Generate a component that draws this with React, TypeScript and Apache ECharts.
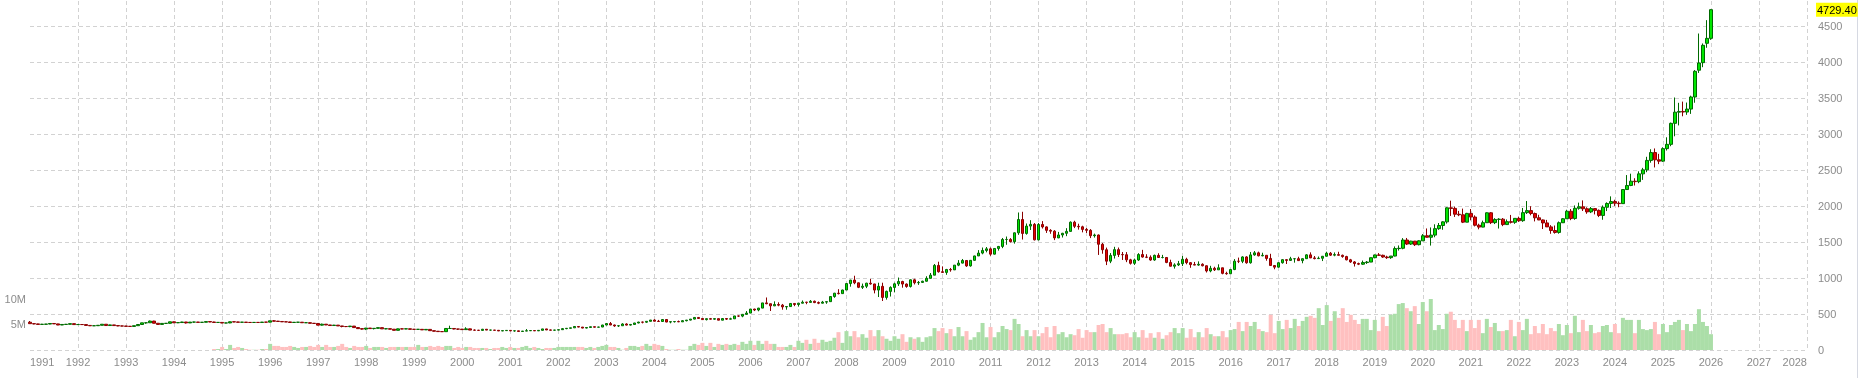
import React, { useEffect, useRef } from 'react';
import * as echarts from 'echarts';

// Monthly categories run from Jan 1991 to Jan 2028
const START_YEAR = 1991;
const END_YEAR = 2028;

// Monthly candles [open, close, low, high], Jan 1991 .. Jan 2026
const ohlc: number[][] = [
  // 1991
  [386.2,366.0,366.0,403.0],[366.0,362.7,357.0,371.0],[362.7,355.7,350.0,365.0],[355.7,357.8,353.5,363.0],
  [357.8,360.4,354.0,362.0],[360.4,368.4,358.0,371.0],[368.4,362.9,361.0,372.0],[362.9,347.4,346.0,364.0],
  [347.4,354.9,346.0,357.0],[354.9,357.5,354.0,362.0],[357.5,366.3,357.0,368.0],[366.3,353.2,353.0,367.0],
  // 1992
  [353.2,354.1,350.0,361.0],[354.1,353.1,349.0,356.0],[353.1,341.7,340.0,354.0],[341.7,336.4,333.0,342.0],
  [336.4,337.5,333.0,340.0],[337.5,343.4,336.0,345.0],[343.4,357.9,343.0,360.0],[357.9,340.0,335.0,358.0],
  [340.0,349.0,339.0,352.0],[349.0,339.3,337.0,350.0],[339.3,334.2,330.0,340.0],[334.2,332.9,330.0,338.0],
  // 1993
  [332.9,329.5,326.0,334.0],[329.5,327.6,326.0,333.0],[327.6,337.8,326.0,338.0],[337.8,354.3,336.0,356.0],
  [354.3,377.5,353.0,378.0],[377.5,378.5,366.0,381.0],[378.5,401.8,377.0,409.0],[401.8,371.6,371.0,406.0],
  [371.6,355.5,350.0,372.0],[355.5,369.6,355.0,372.0],[369.6,370.9,366.0,374.0],[370.9,391.8,369.0,392.0],
  // 1994
  [391.8,378.0,377.0,395.0],[378.0,381.6,374.0,386.0],[381.6,389.2,378.0,392.0],[389.2,376.5,368.0,390.0],
  [376.5,387.6,375.0,389.0],[387.6,388.3,380.0,393.0],[388.3,384.0,381.0,390.0],[384.0,385.8,375.0,387.0],
  [385.8,394.9,385.0,398.0],[394.9,389.1,387.0,396.0],[389.1,383.1,382.0,393.0],[383.1,383.3,375.0,385.0],
  // 1995
  [383.3,374.9,373.0,384.0],[374.9,376.4,372.0,379.0],[376.4,392.0,373.0,396.0],[392.0,389.8,387.0,396.0],
  [389.8,385.3,382.0,392.0],[385.3,387.1,383.0,390.0],[387.1,383.4,382.0,389.0],[383.4,382.4,380.0,388.0],
  [382.4,383.6,381.0,386.0],[383.6,382.7,381.0,387.0],[382.7,387.7,382.0,390.0],[387.7,387.0,383.0,389.0],
  // 1996
  [387.0,405.6,386.0,406.0],[405.6,400.7,398.0,416.0],[400.7,396.4,394.0,404.0],[396.4,391.3,389.0,397.0],
  [391.3,390.6,389.0,395.0],[390.6,382.0,381.0,393.0],[382.0,385.3,380.0,389.0],[385.3,386.5,384.0,390.0],
  [386.5,379.0,378.0,387.0],[379.0,379.5,377.0,385.0],[379.5,371.3,370.0,384.0],[371.3,369.0,366.0,372.0],
  // 1997
  [369.0,345.5,344.0,370.0],[345.5,358.6,339.0,366.0],[358.6,348.2,346.0,359.0],[348.2,340.2,337.0,349.0],
  [340.2,345.6,339.0,349.0],[345.6,334.6,334.0,346.0],[334.6,326.4,315.0,335.0],[326.4,325.4,318.0,332.0],
  [325.4,332.1,317.0,334.0],[332.1,311.4,308.0,334.0],[311.4,296.8,294.0,314.0],[296.8,290.2,283.0,299.0],
  // 1998
  [290.2,304.9,277.0,306.0],[304.9,297.4,292.0,305.0],[297.4,301.0,286.0,302.0],[301.0,310.7,300.0,314.0],
  [310.7,293.6,292.0,311.0],[293.6,296.3,288.0,298.0],[296.3,288.9,287.0,297.0],[288.9,273.4,272.0,289.0],
  [273.4,293.9,273.0,298.0],[293.9,292.3,289.0,301.0],[292.3,294.7,290.0,300.0],[294.7,287.8,285.0,296.0],
  // 1999
  [287.8,287.1,284.0,292.0],[287.1,287.3,282.0,291.0],[287.3,279.5,278.0,290.0],[279.5,286.6,278.0,291.0],
  [286.6,268.6,267.0,290.0],[268.6,261.0,257.0,270.0],[261.0,255.6,253.0,263.0],[255.6,254.8,252.0,259.0],
  [254.8,299.0,254.0,302.0],[299.0,299.1,295.0,338.0],[299.1,291.4,287.0,304.0],[291.4,290.3,278.0,293.0],
  // 2000
  [290.3,283.3,281.0,292.0],[283.3,293.7,283.0,316.0],[293.7,276.8,276.0,297.0],[276.8,275.1,272.0,285.0],
  [275.1,272.3,270.0,279.0],[272.3,288.2,271.0,293.0],[288.2,276.8,276.0,290.0],[276.8,277.0,270.0,280.0],
  [277.0,273.7,270.0,278.0],[273.7,264.5,264.0,274.0],[264.5,269.1,263.0,270.0],[269.1,272.7,268.0,275.0],
  // 2001
  [272.7,265.6,262.0,273.0],[265.6,266.7,255.0,268.0],[266.7,257.7,256.0,268.0],[257.7,263.2,255.0,264.0],
  [263.2,267.5,263.0,291.0],[267.5,270.6,266.0,276.0],[270.6,265.9,264.0,271.0],[265.9,273.0,265.0,275.0],
  [273.0,293.1,271.0,294.0],[293.1,278.8,277.0,294.0],[278.8,275.5,272.0,284.0],[275.5,276.5,271.0,280.0],
  // 2002
  [276.5,282.3,276.0,283.0],[282.3,296.9,281.0,305.0],[296.9,301.4,289.0,304.0],[301.4,308.2,298.0,309.0],
  [308.2,326.6,307.0,328.0],[326.6,318.5,315.0,330.0],[318.5,304.7,302.0,319.0],[304.7,312.8,300.0,315.0],
  [312.8,323.7,310.0,325.0],[323.7,316.9,312.0,324.0],[316.9,319.1,315.0,322.0],[319.1,347.2,318.0,350.0],
  // 2003
  [347.2,367.5,344.0,370.0],[367.5,347.5,345.0,389.0],[347.5,334.9,322.0,353.0],[334.9,336.8,320.0,341.0],
  [336.8,361.4,336.0,372.0],[361.4,346.0,341.0,371.0],[346.0,354.8,340.0,362.0],[354.8,375.6,352.0,377.0],
  [375.6,388.0,371.0,392.0],[388.0,386.3,370.0,394.0],[386.3,398.4,377.0,400.0],[398.4,416.3,398.0,417.0],
  // 2004
  [416.3,399.8,399.0,427.0],[399.8,395.9,393.0,418.0],[395.9,423.7,390.0,427.0],[423.7,388.5,386.0,428.0],
  [388.5,393.3,371.0,395.0],[393.3,395.8,382.0,398.0],[395.8,391.4,387.0,409.0],[391.4,407.3,390.0,416.0],
  [407.3,415.7,398.0,417.0],[415.7,429.4,411.0,430.0],[429.4,452.4,426.0,456.0],[452.4,438.0,432.0,456.0],
  // 2005
  [438.0,422.2,418.0,438.0],[422.2,435.5,411.0,437.0],[435.5,428.4,424.0,445.0],[428.4,436.0,420.0,438.0],
  [436.0,414.5,414.0,437.0],[414.5,437.1,414.0,443.0],[437.1,429.0,418.0,438.0],[429.0,433.3,427.0,448.0],
  [433.3,473.3,432.0,474.0],[473.3,470.8,459.0,479.0],[470.8,495.7,455.0,497.0],[495.7,513.0,490.0,541.0],
  // 2006
  [513.0,568.8,512.0,572.0],[568.8,556.0,541.0,573.0],[556.0,582.0,538.0,586.0],[582.0,654.5,581.0,655.0],
  [654.5,643.0,636.0,730.0],[643.0,613.5,542.0,644.0],[613.5,632.5,610.0,676.0],[632.5,623.5,608.0,663.0],
  [623.5,599.3,560.0,640.0],[599.3,603.8,560.0,608.0],[603.8,646.7,603.0,650.0],[646.7,632.0,609.0,650.0],
  // 2007
  [632.0,650.5,603.0,653.0],[650.5,664.2,648.0,688.0],[664.2,661.8,636.0,670.0],[661.8,677.0,660.0,694.0],
  [677.0,659.1,651.0,687.0],[659.1,650.5,637.0,674.0],[650.5,665.5,647.0,682.0],[665.5,672.0,642.0,676.0],
  [672.0,743.0,670.0,745.0],[743.0,789.5,726.0,794.0],[789.5,783.5,772.0,845.0],[783.5,833.8,780.0,838.0],
  // 2008
  [833.8,923.3,833.0,930.0],[923.3,971.5,880.0,975.0],[971.5,933.5,914.0,1032.0],[933.5,871.0,860.0,937.0],
  [871.0,885.8,848.0,923.0],[885.8,928.3,860.0,934.0],[928.3,918.0,908.0,988.0],[918.0,833.0,787.0,920.0],
  [833.0,884.5,736.0,935.0],[884.5,730.8,681.0,935.0],[730.8,814.5,700.0,825.0],[814.5,869.8,743.0,885.0],
  // 2009
  [869.8,919.5,801.0,935.0],[919.5,952.0,890.0,1007.0],[952.0,916.5,866.0,962.0],[916.5,883.3,865.0,925.0],
  [883.3,975.5,868.0,981.0],[975.5,934.5,911.0,990.0],[934.5,939.0,905.0,959.0],[939.0,955.5,931.0,963.0],
  [955.5,995.8,950.0,1025.0],[995.8,1040.0,995.0,1070.0],[1040.0,1175.8,1040.0,1195.0],[1175.8,1087.5,1075.0,1227.0],
  // 2010
  [1087.5,1078.5,1075.0,1162.0],[1078.5,1118.9,1045.0,1127.0],[1118.9,1113.3,1088.0,1140.0],[1113.3,1179.3,1113.0,1181.0],
  [1179.3,1207.5,1165.0,1249.0],[1207.5,1244.0,1203.0,1265.0],[1244.0,1169.0,1155.0,1246.0],[1169.0,1246.0,1158.0,1250.0],
  [1246.0,1307.0,1242.0,1310.0],[1307.0,1346.8,1307.0,1388.0],[1346.8,1383.5,1330.0,1424.0],[1383.5,1405.5,1357.0,1431.0],
  // 2011
  [1405.5,1332.0,1309.0,1424.0],[1332.0,1411.0,1328.0,1411.5],[1411.0,1439.0,1381.0,1446.0],[1439.0,1535.5,1415.0,1557.0],
  [1535.5,1536.5,1462.0,1577.0],[1536.5,1505.5,1495.0,1555.0],[1505.5,1628.5,1478.0,1632.0],[1628.5,1813.5,1600.0,1911.0],
  [1813.5,1620.0,1535.0,1921.0],[1620.0,1722.0,1603.0,1758.0],[1722.0,1746.0,1668.0,1804.0],[1746.0,1531.0,1523.0,1764.0],
  // 2012
  [1531.0,1744.0,1523.0,1764.0],[1744.0,1711.0,1688.0,1791.0],[1711.0,1662.5,1627.0,1718.0],[1662.5,1651.3,1615.0,1679.0],
  [1651.3,1558.0,1527.0,1666.0],[1558.0,1598.5,1554.0,1641.0],[1598.5,1622.0,1563.0,1628.0],[1622.0,1648.5,1582.0,1693.0],
  [1648.5,1776.0,1647.0,1787.0],[1776.0,1719.0,1694.0,1796.0],[1719.0,1712.0,1673.0,1755.0],[1712.0,1675.8,1635.0,1727.0],
  // 2013
  [1675.8,1663.0,1626.0,1695.0],[1663.0,1588.5,1555.0,1680.0],[1588.5,1598.3,1562.0,1617.0],[1598.3,1469.0,1321.0,1605.0],
  [1469.0,1393.0,1338.0,1488.0],[1393.0,1234.5,1180.0,1423.0],[1234.5,1314.5,1207.0,1347.0],[1314.5,1394.8,1271.0,1434.0],
  [1394.8,1326.5,1292.0,1424.0],[1326.5,1324.0,1251.0,1362.0],[1324.0,1253.0,1221.0,1361.0],[1253.0,1204.5,1187.0,1267.0],
  // 2014
  [1204.5,1251.0,1182.0,1270.0],[1251.0,1326.5,1238.0,1346.0],[1326.5,1291.8,1284.0,1392.0],[1291.8,1288.5,1277.0,1331.0],
  [1288.5,1250.5,1240.0,1315.0],[1250.5,1315.0,1240.0,1326.0],[1315.0,1285.3,1281.0,1345.0],[1285.3,1285.8,1273.0,1322.0],
  [1285.8,1216.5,1206.0,1287.0],[1216.5,1164.3,1161.0,1255.0],[1164.3,1182.8,1131.0,1205.0],[1182.8,1199.3,1167.0,1238.0],
  // 2015
  [1199.3,1260.3,1167.0,1307.0],[1260.3,1214.0,1191.0,1282.0],[1214.0,1187.0,1142.0,1223.0],[1187.0,1180.3,1178.0,1224.0],
  [1180.3,1191.4,1170.0,1232.0],[1191.4,1171.0,1162.0,1205.0],[1171.0,1098.4,1077.0,1175.0],[1098.4,1135.0,1080.0,1170.0],
  [1135.0,1114.0,1098.0,1157.0],[1114.0,1142.4,1113.0,1191.0],[1142.4,1065.0,1052.0,1143.0],[1065.0,1060.0,1046.0,1088.0],
  // 2016
  [1060.0,1118.0,1058.0,1127.0],[1118.0,1234.0,1110.0,1263.0],[1234.0,1232.7,1208.0,1284.0],[1232.7,1293.3,1207.0,1303.0],
  [1293.3,1212.3,1199.0,1304.0],[1212.3,1321.9,1200.0,1362.0],[1321.9,1350.0,1310.0,1375.0],[1350.0,1309.0,1301.0,1367.0],
  [1309.0,1316.0,1302.0,1352.0],[1316.0,1272.4,1241.0,1318.0],[1272.4,1173.9,1171.0,1337.0],[1173.9,1151.7,1122.0,1179.0],
  // 2017
  [1151.7,1212.8,1146.0,1220.0],[1212.8,1255.6,1200.0,1264.0],[1255.6,1245.2,1195.0,1262.0],[1245.2,1268.3,1240.0,1295.0],
  [1268.3,1268.9,1214.0,1270.0],[1268.9,1242.3,1237.0,1296.0],[1242.3,1269.1,1205.0,1274.0],[1269.1,1322.1,1267.0,1331.0],
  [1322.1,1280.0,1277.0,1357.0],[1280.0,1270.2,1260.0,1306.0],[1270.2,1275.0,1264.0,1299.0],[1275.0,1303.0,1236.0,1306.0],
  // 2018
  [1303.0,1345.0,1302.0,1366.0],[1345.0,1318.4,1307.0,1362.0],[1318.4,1325.5,1303.0,1356.0],[1325.5,1315.9,1313.0,1365.0],
  [1315.9,1298.6,1282.0,1326.0],[1298.6,1253.2,1246.0,1309.0],[1253.2,1224.2,1211.0,1266.0],[1224.2,1201.0,1160.0,1236.0],
  [1201.0,1192.5,1180.0,1214.0],[1192.5,1214.9,1183.0,1243.0],[1214.9,1222.0,1196.0,1237.0],[1222.0,1282.5,1221.0,1284.0],
  // 2019
  [1282.5,1321.2,1275.0,1326.0],[1321.2,1316.0,1308.0,1347.0],[1316.0,1292.3,1281.0,1325.0],[1292.3,1283.5,1266.0,1310.0],
  [1283.5,1305.6,1267.0,1306.0],[1305.6,1409.6,1301.0,1439.0],[1409.6,1413.7,1382.0,1453.0],[1413.7,1528.4,1400.0,1555.0],
  [1528.4,1472.0,1459.0,1557.0],[1472.0,1512.7,1459.0,1518.0],[1512.7,1463.6,1445.0,1516.0],[1463.6,1517.3,1454.0,1525.0],
  // 2020
  [1517.3,1587.9,1517.0,1611.0],[1587.9,1566.7,1563.0,1689.0],[1566.7,1596.6,1451.0,1703.0],[1596.6,1686.2,1567.0,1747.0],
  [1686.2,1730.3,1670.0,1765.0],[1730.3,1780.6,1671.0,1789.0],[1780.6,1975.9,1757.0,1984.0],[1975.9,1967.9,1863.0,2075.0],
  [1967.9,1886.9,1849.0,1992.0],[1886.9,1879.0,1860.0,1933.0],[1879.0,1776.5,1764.0,1965.0],[1776.5,1898.4,1775.0,1906.0],
  // 2021
  [1898.4,1847.6,1802.0,1959.0],[1847.6,1734.0,1717.0,1871.0],[1734.0,1707.7,1677.0,1755.0],[1707.7,1769.1,1705.0,1798.0],
  [1769.1,1906.9,1765.0,1913.0],[1906.9,1770.1,1750.0,1917.0],[1770.1,1814.2,1750.0,1832.0],[1814.2,1818.1,1688.0,1832.0],
  [1818.1,1742.8,1721.0,1834.0],[1742.8,1783.4,1740.0,1814.0],[1783.4,1774.6,1758.0,1877.0],[1774.6,1829.2,1753.0,1831.0],
  // 2022
  [1829.2,1797.2,1780.0,1853.0],[1797.2,1909.0,1781.0,1974.0],[1909.0,1937.4,1890.0,2070.0],[1937.4,1896.4,1872.0,1998.0],
  [1896.4,1837.4,1787.0,1910.0],[1837.4,1807.3,1805.0,1879.0],[1807.3,1766.0,1681.0,1814.0],[1766.0,1711.0,1709.0,1808.0],
  [1711.0,1660.6,1615.0,1735.0],[1660.6,1633.6,1617.0,1730.0],[1633.6,1768.5,1616.0,1786.0],[1768.5,1824.0,1765.0,1833.0],
  // 2023
  [1824.0,1928.4,1823.0,1949.0],[1928.4,1826.9,1804.0,1959.0],[1826.9,1969.3,1810.0,2009.0],[1969.3,1990.0,1950.0,2048.0],
  [1990.0,1962.7,1932.0,2079.0],[1962.7,1919.4,1893.0,1983.0],[1919.4,1965.1,1903.0,1987.0],[1965.1,1940.2,1884.0,1966.0],
  [1940.2,1870.0,1847.0,1953.0],[1870.0,1983.9,1810.0,2009.0],[1983.9,2036.4,1931.0,2052.0],[2036.4,2062.9,1973.0,2135.0],
  // 2024
  [2062.9,2039.5,2002.0,2088.0],[2039.5,2034.0,1984.0,2065.0],[2034.0,2229.9,2030.0,2236.0],[2229.9,2286.3,2228.0,2431.0],
  [2286.3,2345.8,2277.0,2450.0],[2345.8,2339.6,2286.0,2387.0],[2339.6,2447.6,2318.0,2483.0],[2447.6,2503.4,2364.0,2531.0],
  [2503.4,2634.6,2471.0,2685.0],[2634.6,2744.0,2603.0,2790.0],[2744.0,2643.2,2537.0,2801.0],[2643.2,2624.5,2583.0,2726.0],
  // 2025
  [2624.5,2798.4,2614.0,2817.0],[2798.4,2857.8,2772.0,2956.0],[2857.8,3150.0,2832.0,3160.0],[3150.0,3305.0,2970.0,3509.0],
  [3305.0,3315.0,3121.0,3435.0],[3315.0,3307.0,3248.0,3452.0],[3307.0,3348.0,3268.0,3439.0],[3348.0,3516.0,3281.0,3534.0],
  [3516.0,3873.0,3436.0,3890.0],[3888.0,3989.0,3850.0,4398.0],[3993.0,4234.0,3930.0,4260.0],[4262.0,4331.0,4200.0,4584.0],
  // 2026
  [4331.0,4729.4,4310.0,4735.0],
];

// Monthly volume in millions, Jan 1991 .. Jan 2026 (no data before Nov 1994)
const volumeM: (number | null)[] = [
  // 1991-1993
  null,null,null,null,null,null,null,null,null,null,null,null,
  null,null,null,null,null,null,null,null,null,null,null,null,
  null,null,null,null,null,null,null,null,null,null,null,null,
  // 1994
  null,null,null,null,null,null,null,null,null,null,0.2,0.2,
  // 1995
  0.6,0.2,1.0,0.4,0.6,0.4,0.2,0.05,0.05,0.05,0.2,0.2,
  // 1996
  1.2,0.8,0.8,0.6,0.6,0.8,0.6,0.4,0.6,0.6,0.8,0.6,
  // 1997
  1.0,0.6,1.0,0.6,0.6,0.8,1.2,0.6,0.4,0.8,0.6,0.6,
  // 1998
  0.8,0.4,0.6,0.6,0.6,0.4,0.6,0.6,0.6,0.6,0.6,0.6,
  // 1999
  0.6,1.0,0.6,0.6,0.8,0.6,0.8,0.6,0.8,0.8,0.4,0.6,
  // 2000
  0.4,0.6,0.6,0.4,0.4,0.4,0.4,0.2,0.4,0.4,0.6,0.4,
  // 2001
  0.6,0.4,0.4,0.6,0.8,0.4,0.6,0.4,0.2,0.4,0.4,0.4,
  // 2002
  0.6,0.6,0.6,0.6,0.6,0.6,0.6,0.4,0.6,0.4,0.6,0.8,
  // 2003
  1.0,0.6,0.6,0.4,0.05,0.4,0.8,0.8,0.6,0.8,1.2,0.8,
  // 2004
  1.2,1.0,0.8,0.2,0.05,0.05,0.2,0.05,0.05,0.8,1.2,1.0,
  // 2005
  1.4,0.8,1.4,0.6,1.2,1.0,1.2,1.0,1.2,1.0,1.6,1.2,
  // 2006
  1.8,1.0,1.8,1.2,1.8,1.2,1.2,0.6,0.6,0.6,1.0,0.6,
  // 2007
  1.8,1.4,2.0,1.2,2.2,1.4,2.0,1.6,1.8,2.4,3.5,1.4,
  // 2008
  3.7,2.7,3.7,2.5,3.1,2.4,3.9,2.7,3.9,2.7,2.2,1.8,
  // 2009
  2.7,2.2,3.1,1.6,2.5,2.2,2.5,1.6,2.5,2.7,4.3,3.7,
  // 2010
  4.3,3.3,4.1,2.7,4.5,2.7,3.7,2.0,2.5,3.5,5.3,2.5,
  // 2011
  4.5,2.5,3.5,4.7,4.1,3.9,6.1,5.1,2.7,3.9,2.7,3.9,
  // 2012
  2.7,3.3,4.5,2.5,4.7,3.1,3.5,2.5,3.1,2.9,4.1,2.4,
  // 2013
  3.9,3.5,3.5,4.9,5.1,3.5,4.3,3.1,3.1,3.1,3.3,2.5,
  // 2014
  3.5,2.5,3.9,2.4,3.3,2.4,3.5,2.2,2.9,3.5,4.3,3.3,
  // 2015
  4.3,2.4,4.1,2.5,3.5,2.5,4.3,3.1,2.7,2.7,3.7,2.5,
  // 2016
  3.9,4.1,5.5,3.7,5.5,4.7,5.5,4.1,3.7,3.5,6.9,3.3,
  // 2017
  5.7,4.1,5.9,4.3,6.1,4.7,5.7,6.5,6.7,6.3,8.2,4.9,
  // 2018
  8.8,5.7,7.6,6.3,8.2,5.5,6.9,5.9,5.1,6.1,6.1,3.9,
  // 2019
  5.9,3.7,6.5,4.7,6.9,7.1,9.0,9.2,8.2,7.6,8.6,5.1,
  // 2020
  9.4,7.6,10.0,3.9,4.9,4.1,7.1,7.5,5.9,4.3,5.9,3.7,
  // 2021
  5.9,4.3,5.9,3.3,6.1,4.5,5.3,3.7,3.7,3.9,5.9,2.7,
  // 2022
  5.5,3.9,6.1,3.1,4.7,3.3,5.1,3.1,4.3,3.7,5.1,2.9,
  // 2023
  4.9,3.3,6.7,3.5,5.9,3.7,4.9,3.3,3.5,4.7,4.9,3.5,
  // 2024
  5.1,3.3,6.3,5.9,5.9,3.3,5.9,4.1,3.9,4.1,5.5,3.1,
  // 2025
  5.1,3.5,4.9,5.5,5.9,3.9,5.1,3.7,5.1,8.0,5.5,4.7,
  // 2026
  3.1,
];

const PRICE_MAX = 4850;
const PRICE_STEP = 500;
const VOL_MAX_M = 68.4;
const VOL_STEP_M = 5;
const VOL_LABELS: Record<number, string> = { 5: '5M', 10: '10M' };

const FONT = "'Liberation Sans', Arial, Helvetica, sans-serif";
const LABEL_COLOR = '#8c8c8c';
const GRID_COLOR = '#d2d2d2';

export default function App() {
  const ref = useRef<HTMLDivElement>(null);

  useEffect(() => {
    document.body.style.margin = '0';
    if (!ref.current) return;
    const chart = echarts.init(ref.current, null, { renderer: 'svg' });

    const categories: string[] = [];
    for (let y = START_YEAR; y < END_YEAR; y++) {
      for (let m = 1; m <= 12; m++) categories.push(`${y}-${String(m).padStart(2, '0')}`);
    }
    categories.push(`${END_YEAR}-01`);

    const candleData = categories.map((_, i) => (ohlc[i] ? ohlc[i] : '-'));
    const volData = categories.map((_, i) => {
      const v = volumeM[i];
      const c = ohlc[i];
      if (v == null || !c) return '-';
      return { value: v, itemStyle: { color: c[1] >= c[0] ? '#abdea8' : '#ffc0c0' } };
    });
    const lastClose = ohlc[ohlc.length - 1][1];
    const isYearStart = (i: number) => i % 12 === 0;

    chart.setOption({
      animation: false,
      grid: { left: 30, right: 52, top: 1, bottom: 28 },
      xAxis: {
        type: 'category',
        data: categories,
        boundaryGap: false,
        axisLine: { show: false },
        axisTick: { show: false },
        axisLabel: {
          interval: (i: number) => isYearStart(i),
          formatter: (v: string) => v.slice(0, 4),
          color: LABEL_COLOR,
          fontSize: 11,
          fontFamily: FONT,
          margin: 6,
          alignMinLabel: 'left',
          alignMaxLabel: 'right',
        },
        splitLine: {
          show: true,
          interval: (i: number) => isYearStart(i) && i > 0,
          lineStyle: { color: GRID_COLOR, width: 1, type: [4, 3] },
        },
      },
      yAxis: [
        {
          type: 'value',
          position: 'right',
          min: 0,
          max: PRICE_MAX,
          interval: PRICE_STEP,
          axisLine: { show: false },
          axisTick: { show: false },
          axisLabel: {
            color: LABEL_COLOR,
            fontSize: 11,
            fontFamily: FONT,
            margin: 11,
            showMaxLabel: false,
            formatter: (v: number) => String(v),
          },
          splitLine: { show: true, showMaxLine: false, lineStyle: { color: GRID_COLOR, width: 1, type: [4, 3] } },
        },
        {
          type: 'value',
          position: 'left',
          min: 0,
          max: VOL_MAX_M,
          interval: VOL_STEP_M,
          axisLine: { show: false },
          axisTick: { show: false },
          splitLine: { show: false },
          axisLabel: {
            color: LABEL_COLOR,
            fontSize: 11,
            fontFamily: FONT,
            margin: 4,
            showMaxLabel: false,
            formatter: (v: number) => VOL_LABELS[v] ?? '',
          },
        },
      ],
      series: [
        {
          type: 'bar',
          yAxisIndex: 1,
          data: volData,
          barCategoryGap: '0%',
          z: 1,
        },
        {
          type: 'candlestick',
          yAxisIndex: 0,
          data: candleData,
          barWidth: 3,
          z: 2,
          itemStyle: {
            color: '#00e600',
            color0: '#e60000',
            borderColor: '#006a00',
            borderColor0: '#8b0000',
            borderWidth: 1,
          },
        },
      ],
    });

    // Last-price tag on the right axis, placed at the last close through the axis scale
    const tagY = chart.convertToPixel({ yAxisIndex: 0 }, lastClose) as number;
    chart.setOption({
      graphic: [
        {
          type: 'line',
          silent: true,
          shape: { x1: 1857.5, y1: 0, x2: 1857.5, y2: 378 },
          style: { stroke: '#d6d9e2', lineWidth: 1 },
        },
        {
          type: 'text',
          silent: true,
          x: 1816,
          y: tagY,
          z: 100,
          style: {
            text: lastClose.toFixed(2),
            fill: '#000000',
            font: `11px ${FONT}`,
            backgroundColor: '#ffff00',
            padding: [2, 1, 1, 1],
            verticalAlign: 'middle',
            align: 'left',
          },
        },
      ],
    });

    return () => chart.dispose();
  }, []);

  return <div ref={ref} style={{ position: 'fixed', left: 0, top: 0, width: 1859, height: 378 }} />;
}
